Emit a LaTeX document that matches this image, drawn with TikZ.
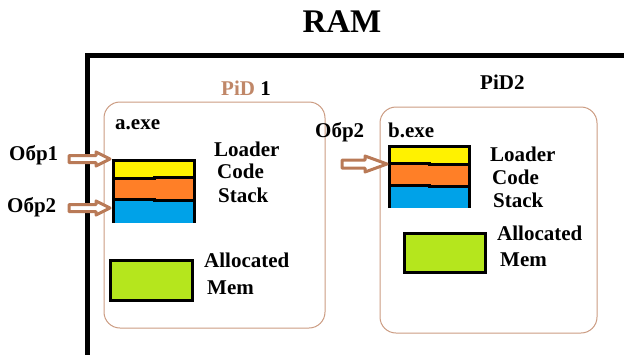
\documentclass[tikz,border=0pt]{standalone}
\usepackage{fontspec}
\setmainfont{Liberation Serif}
\usepackage{xcolor}
\definecolor{brunpaint}{RGB}{185, 122, 87}
\definecolor{jaunepaint}{RGB}{255, 242, 0}
\definecolor{orangepaint}{RGB}{255, 127, 39}
\definecolor{bleupaint}{RGB}{0, 162, 232}
\definecolor{vertpaint}{RGB}{181, 230, 29}

\tikzset{
  lbl/.style={font=\fontsize{21}{23}\selectfont\bfseries, inner sep=0pt, anchor=west},
  procbox/.style={draw=brunpaint!75, line width=1pt, rounded corners=16pt},
  memline/.style={draw=black, line width=3pt},
  obrarrow/.style={draw=brunpaint, fill=white, line width=3pt, line join=round},
}

\begin{document}
\begin{tikzpicture}[x=1pt, y=-1pt]
  \useasboundingbox (0,0) rectangle (624,354);

  % RAM
  \node[font=\fontsize{33}{36}\selectfont\bfseries, inner sep=0pt] (ram) at (342,22) {RAM};
  \draw[line width=5pt] (87,360) |- (630,55);

  % processus 1
  \draw[procbox] (104,102) rectangle (325,328);
  \node[lbl, text=brunpaint!90] (pid1) at (221,88) {PiD \textcolor{black}{1}};
  \node[lbl] (exeA) at (115,125) {a.exe};
  \fill[jaunepaint] (113,160) rectangle (194,178);
  \fill[orangepaint] (113,178) rectangle (194,199);
  \fill[bleupaint] (113,199) rectangle (194,223);
  \draw[memline] (113,223) |- (194,160) -- (194,223);
  \draw[memline] (113,178) -- (154,178) -- (154,177) -- (194,177);
  \draw[memline] (113,199) -- (154,199) -- (154,200) -- (194,200);
  \coordinate (inA1) at (110,159);
  \coordinate (inA2) at (110,208);
  \node[lbl] (loadA) at (214,149) {Loader};
  \node[lbl] (codeA) at (217,171) {Code};
  \node[lbl] (stackA) at (218,195) {Stack};
  \draw[memline, fill=vertpaint] (110,260) rectangle (192,300);
  \node[lbl] (allocA) at (204,260) {Allocated};
  \node[lbl] (memA) at (207,288) {Mem};

  % processus 2
  \draw[procbox] (380,107) rectangle (597,333);
  \node[lbl] (pid2) at (480,82) {PiD2};
  \node[lbl] (exeB) at (388,130) {b.exe};
  \fill[jaunepaint] (389,146) rectangle (469,163);
  \fill[orangepaint] (389,163) rectangle (469,185);
  \fill[bleupaint] (389,185) rectangle (469,208);
  \draw[memline] (389,208) |- (469,146) -- (469,208);
  \draw[memline] (389,163) -- (429,163) -- (429,164) -- (469,164);
  \draw[memline] (389,185) -- (429,185) -- (429,186) -- (469,186);
  \coordinate (inB) at (387,164);
  \node[lbl] (loadB) at (490,154) {Loader};
  \node[lbl] (codeB) at (492,177) {Code};
  \node[lbl] (stackB) at (493,200) {Stack};
  \draw[memline, fill=vertpaint] (404,233) rectangle (485,272);
  \node[lbl] (allocB) at (497,233) {Allocated};
  \node[lbl] (memB) at (500,260) {Mem};

  % flux
  \node[lbl] (obr1) at (9,155) {Обр1};
  \node[lbl] (obr2) at (7,207) {Обр2};
  \node[lbl] (obr3) at (315,132) {Обр2};
  \draw[obrarrow] (inA1) -- ++(-14,-7) -- ++(0,3.5) -- ++(-27,0)
    -- ++(0,7) -- ++(27,0) -- ++(0,3.5) -- cycle;
  \draw[obrarrow] (inA2) -- ++(-14,-7) -- ++(0,3.5) -- ++(-27,0)
    -- ++(0,7) -- ++(27,0) -- ++(0,3.5) -- cycle;
  \draw[obrarrow] (inB) -- ++(-22,-8) -- ++(0,4) -- ++(-23,0)
    -- ++(0,8) -- ++(23,0) -- ++(0,4) -- cycle;
\end{tikzpicture}
\end{document}
